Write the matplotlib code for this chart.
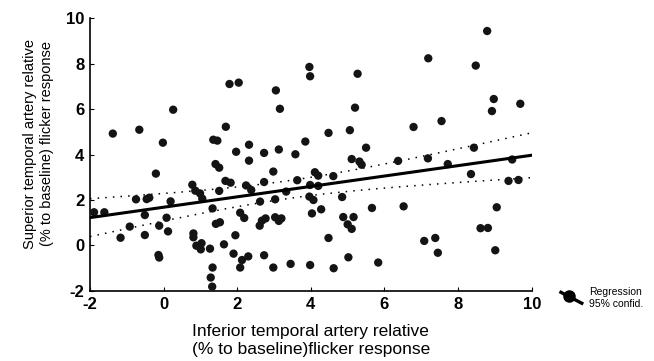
import numpy as np
import matplotlib.pyplot as plt
from matplotlib.lines import Line2D
from matplotlib.legend_handler import HandlerBase

plt.rcParams['font.family'] = ['Liberation Sans', 'DejaVu Sans']
plt.rcParams['axes.unicode_minus'] = False

# inferior temporal artery response (x) and superior temporal artery response (y)
x_vals = [-1.89, -1.61, -1.38, -1.17, -0.92, -0.75, -0.66, -0.51, -0.51, -0.46,
          -0.39, -0.21, -0.14, -0.12, -0.12, -0.02, 0.08, 0.12, 0.19, 0.26,
          0.78, 0.86, 0.99, 1.05, 0.81, 0.81, 0.89, 1.01, 1.03, 1.26,
          1.33, 1.33, 1.28, 1.32, 1.35, 1.46, 1.41, 1.51, 1.42, 1.53,
          1.51, 1.64, 1.69, 1.68, 1.82, 1.79, 2.04, 1.97, 1.95, 1.90,
          2.08, 2.19, 2.08, 2.13, 2.30, 2.32, 2.32, 2.24, 2.38, 2.62,
          2.61, 2.67, 2.77, 2.73, 2.73, 2.73, 2.98, 3.03, 3.03, 3.13,
          3.20, 2.98, 3.05, 3.16, 3.13, 3.33, 3.45, 3.58, 3.63, 3.85,
          3.96, 3.98, 3.98, 3.96, 4.03, 3.98, 4.11, 4.20, 4.20, 4.07,
          4.28, 4.61, 4.48, 4.48, 4.62, 4.85, 4.88, 5.00, 5.11, 5.16,
          5.02, 5.06, 5.11, 5.20, 5.27, 5.32, 5.38, 5.50, 5.66, 5.83,
          6.37, 6.52, 6.79, 7.08, 7.19, 7.18, 7.38, 7.45, 7.55, 7.72,
          8.35, 8.43, 8.48, 8.61, 8.81, 8.79, 8.92, 8.97, 9.05, 9.01,
          9.37, 9.64, 9.47, 9.69]
y_vals = [1.46, 1.46, 4.92, 0.34, 0.83, 2.03, 5.09, 1.34, 0.46, 2.04,
          2.10, 3.16, -0.42, 0.87, -0.53, 4.52, 1.22, 0.62, 1.94, 5.97,
          2.67, 2.41, 2.29, 2.06, 0.53, 0.36, -0.01, -0.17, 0.10, -0.14,
          1.63, -0.97, -1.41, -1.81, 4.65, 4.61, 3.58, 3.42, 0.95, 1.02,
          2.40, 0.05, 5.22, 2.84, 2.76, 7.10, 7.16, 4.12, 0.45, -0.36,
          1.44, 1.21, -0.97, -0.64, -0.48, 4.43, 3.73, 2.64, 2.44, 1.93,
          0.87, 1.09, 1.19, 4.07, 2.79, -0.43, 3.25, 2.03, 1.24, 1.08,
          1.19, -0.97, 6.82, 6.01, 4.22, 2.37, -0.81, 4.01, 2.87, 4.57,
          7.85, 7.44, 2.66, 2.15, 1.41, -0.86, 3.22, 3.07, 2.62, 2.00,
          1.59, 3.05, 4.95, 0.33, -1.00, 2.13, 1.25, 0.93, 0.73, 1.25,
          -0.52, 5.07, 3.80, 6.06, 7.55, 3.69, 3.55, 4.30, 1.65, -0.75,
          3.72, 1.72, 5.21, 0.20, 8.23, 3.83, 0.33, -0.32, 5.47, 3.58,
          3.14, 4.30, 7.91, 0.76, 0.77, 9.43, 5.91, 6.44, 1.68, -0.21,
          2.84, 2.88, 3.78, 6.23]

x_ticks = [-2, 0, 2, 4, 6, 8, 10]
y_ticks = [-2, 0, 2, 4, 6, 8, 10]

x = np.array(x_vals)
y = np.array(y_vals)

# linear regression with 95% confidence band for the mean
n = len(x)
slope, intercept = np.polyfit(x, y, 1)
resid = y - (intercept + slope * x)
s = np.sqrt(np.sum(resid ** 2) / (n - 2))
sxx = np.sum((x - x.mean()) ** 2)
xs = np.linspace(-2, 10, 200)
fit = intercept + slope * xs
half = 1.977 * s * np.sqrt(1.0 / n + (xs - x.mean()) ** 2 / sxx)


class SlantHandler(HandlerBase):
    # slanted line with a dot on it, like the original legend key
    def create_artists(self, legend, orig_handle, xdescent, ydescent,
                       width, height, fontsize, trans):
        line = Line2D([0, width], [height * 1.3, -height * 0.2],
                      color='black', lw=2.4, transform=trans)
        dot = Line2D([width * 0.4], [height * 0.75], marker='o', ms=8,
                     color='black', transform=trans)
        return [line, dot]


fig = plt.figure(figsize=(6.54, 3.61), dpi=100)
ax = fig.add_axes([0.1376, 0.194, 0.6754, 0.756])

ax.scatter(x, y, s=36, color='#141414', edgecolors='none', zorder=3)
ax.plot(xs, fit, color='black', lw=2.2, zorder=4)
ax.plot(xs, fit + half, color='black', lw=1.1, linestyle=(0, (1, 4)))
ax.plot(xs, fit - half, color='black', lw=1.1, linestyle=(0, (1, 4)))

ax.set_xlim(-2, 10)
ax.set_ylim(-2, 10)
ax.set_xticks(x_ticks)
ax.set_yticks(y_ticks)
ax.tick_params(direction='in', length=3, width=0.8, labelsize=12, pad=4)
for lab in ax.get_xticklabels() + ax.get_yticklabels():
    lab.set_fontweight('bold')
for sp in ['top', 'right']:
    ax.spines[sp].set_visible(False)
for sp in ['left', 'bottom']:
    ax.spines[sp].set_linewidth(1.2)

ax.set_xlabel('Inferior temporal artery relative\n(% to baseline)flicker response',
              fontsize=12.5, linespacing=1.2)
ax.xaxis.set_label_coords(0.5, -0.122, transform=ax.transAxes)
ax.xaxis.label.set_va('top')
ax.set_ylabel('Superior temporal artery relative\n(% to baseline) flicker response',
              fontsize=10.5, linespacing=1.3)
ax.yaxis.set_label_coords(-0.081, 0.54)

handle = Line2D([], [], color='black', marker='o')
ax.legend([handle], ['Regression\n95% confid.'], loc='center left',
          bbox_to_anchor=(1.045, -0.025), frameon=False, fontsize=7.5,
          handlelength=2.0, handletextpad=0.7,
          handler_map={Line2D: SlantHandler()})

fig.savefig('out.png', dpi=100)
